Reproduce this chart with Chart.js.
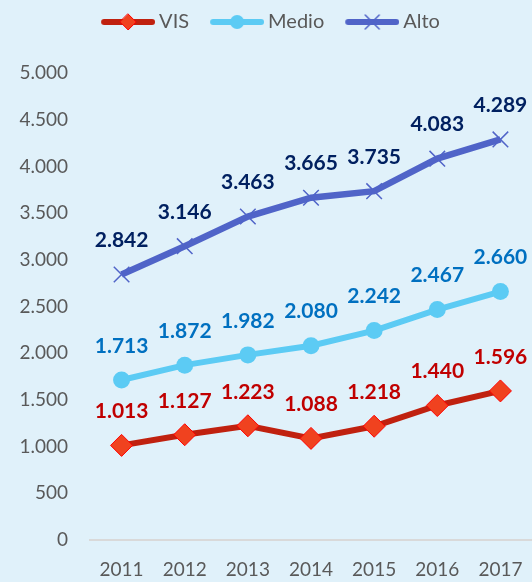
<!DOCTYPE html>
<html>
<head>
<meta charset="utf-8">
<script src="https://cdn.jsdelivr.net/npm/chart.js@4.4.0/dist/chart.umd.min.js"></script>
<style>
  html, body { margin: 0; padding: 0; background: #e0f1fa; }
  #wrap { width: 532px; height: 582px; }
</style>
</head>
<body>
<div id="wrap"><canvas id="chart" width="532" height="582"></canvas></div>
<script>
    // Datos
    const years = ['2011', '2012', '2013', '2014', '2015', '2016', '2017'];
    const visValues = [1013, 1127, 1223, 1088, 1218, 1440, 1596];
    const medioValues = [1713, 1872, 1982, 2080, 2242, 2467, 2660];
    const altoValues = [2842, 3146, 3463, 3665, 3735, 4083, 4289];

    const fontFamily = 'Lato, "Liberation Sans", sans-serif';

    // Formato con punto de miles
    function fmt(v) {
        return String(v).replace(/\B(?=(\d{3})+(?!\d))/g, '.');
    }

    // Icono de leyenda: linea con marcador
    function legendIcon(lineColor, drawMarker) {
        const c = document.createElement('canvas');
        c.width = 69;
        c.height = 22;
        const ctx = c.getContext('2d');
        ctx.strokeStyle = lineColor;
        ctx.lineWidth = 6;
        ctx.lineCap = 'round';
        ctx.beginPath();
        ctx.moveTo(18, 11);
        ctx.lineTo(66, 11);
        ctx.stroke();
        drawMarker(ctx, 42, 11);
        return c;
    }

    const visIcon = legendIcon('#c0210f', (ctx, x, y) => {
        ctx.fillStyle = '#f0421f';
        ctx.strokeStyle = '#ff0000';
        ctx.lineWidth = 1;
        ctx.beginPath();
        ctx.moveTo(x, y - 8); ctx.lineTo(x + 8, y); ctx.lineTo(x, y + 8); ctx.lineTo(x - 8, y);
        ctx.closePath();
        ctx.fill();
        ctx.stroke();
    });
    const medioIcon = legendIcon('#5ccbf4', (ctx, x, y) => {
        ctx.fillStyle = '#5ccbf4';
        ctx.beginPath();
        ctx.arc(x, y, 7, 0, Math.PI * 2);
        ctx.fill();
    });
    const altoIcon = legendIcon('#5064c8', (ctx, x, y) => {
        ctx.strokeStyle = '#5064c8';
        ctx.lineWidth = 1.5;
        ctx.beginPath();
        ctx.moveTo(x - 7, y - 7); ctx.lineTo(x + 7, y + 7);
        ctx.moveTo(x + 7, y - 7); ctx.lineTo(x - 7, y + 7);
        ctx.stroke();
    });

    // Etiquetas de datos encima de cada punto
    const dataLabels = {
        id: 'dataLabels',
        afterDatasetsDraw(chart) {
            const ctx = chart.ctx;
            ctx.save();
            ctx.font = 'bold 21px ' + fontFamily;
            ctx.textAlign = 'center';
            ctx.textBaseline = 'middle';
            chart.data.datasets.forEach((ds, i) => {
                const meta = chart.getDatasetMeta(i);
                ctx.fillStyle = ds.labelColor;
                meta.data.forEach((pt, j) => {
                    ctx.fillText(fmt(ds.data[j]), pt.x, pt.y - 34);
                });
            });
            ctx.restore();
        }
    };

    const ctx = document.getElementById('chart').getContext('2d');
    const chart = new Chart(ctx, {
        type: 'line',
        data: {
            labels: years,
            datasets: [{
                label: 'VIS',
                data: visValues,
                borderColor: '#c0210f',
                borderWidth: 6,
                pointStyle: 'rectRot',
                pointRadius: 11,
                pointBackgroundColor: '#f0421f',
                pointBorderColor: '#ff0000',
                pointBorderWidth: 1,
                labelColor: '#c00000',
                legendIcon: visIcon
            }, {
                label: 'Medio',
                data: medioValues,
                borderColor: '#5ccbf4',
                borderWidth: 6,
                pointStyle: 'circle',
                pointRadius: 8.5,
                pointBackgroundColor: '#5ccbf4',
                pointBorderColor: '#5ccbf4',
                pointBorderWidth: 0,
                labelColor: '#0070c0',
                legendIcon: medioIcon
            }, {
                label: 'Alto',
                data: altoValues,
                borderColor: '#5064c8',
                borderWidth: 6.5,
                pointStyle: 'crossRot',
                pointRadius: 11,
                pointBorderColor: '#5064c8',
                pointBorderWidth: 1.5,
                labelColor: '#002060',
                legendIcon: altoIcon
            }]
        },
        options: {
            responsive: false,
            animation: false,
            layout: { padding: 0, autoPadding: false },
            plugins: {
                tooltip: { enabled: false },
                // espaciador entre leyenda y grafico
                title: {
                    display: true,
                    text: '',
                    weight: 500,
                    font: { size: 10, lineHeight: 1 },
                    padding: { top: 0, bottom: 21 }
                },
                legend: {
                    position: 'top',
                    labels: {
                        usePointStyle: true,
                        pointStyleWidth: 57,
                        padding: 12,
                        color: '#595959',
                        font: { family: fontFamily, size: 20 },
                        generateLabels(chart) {
                            return chart.data.datasets.map((ds, i) => ({
                                text: ds.label,
                                fillStyle: ds.borderColor,
                                strokeStyle: ds.borderColor,
                                lineWidth: 0,
                                pointStyle: ds.legendIcon,
                                fontColor: '#595959',
                                datasetIndex: i
                            }));
                        }
                    }
                }
            },
            scales: {
                x: {
                    offset: true,
                    grid: { display: false, drawTicks: true, tickLength: 14 },
                    border: { display: true, color: '#d9d9d9', width: 2 },
                    ticks: {
                        color: '#595959',
                        padding: 4,
                        font: { family: fontFamily, size: 19 }
                    },
                    afterFit(s) {
                        s.height = 42;
                        s.paddingLeft = 0;
                        s.paddingRight = 0;
                    }
                },
                y: {
                    min: 0,
                    max: 5000,
                    grid: { display: false, drawTicks: false },
                    border: { display: false },
                    ticks: {
                        stepSize: 500,
                        color: '#595959',
                        padding: 22,
                        font: { family: fontFamily, size: 19 },
                        callback: v => fmt(v)
                    },
                    afterFit(s) { s.width = 90; }
                }
            }
        },
        plugins: [dataLabels]
    });
</script>
</body>
</html>
